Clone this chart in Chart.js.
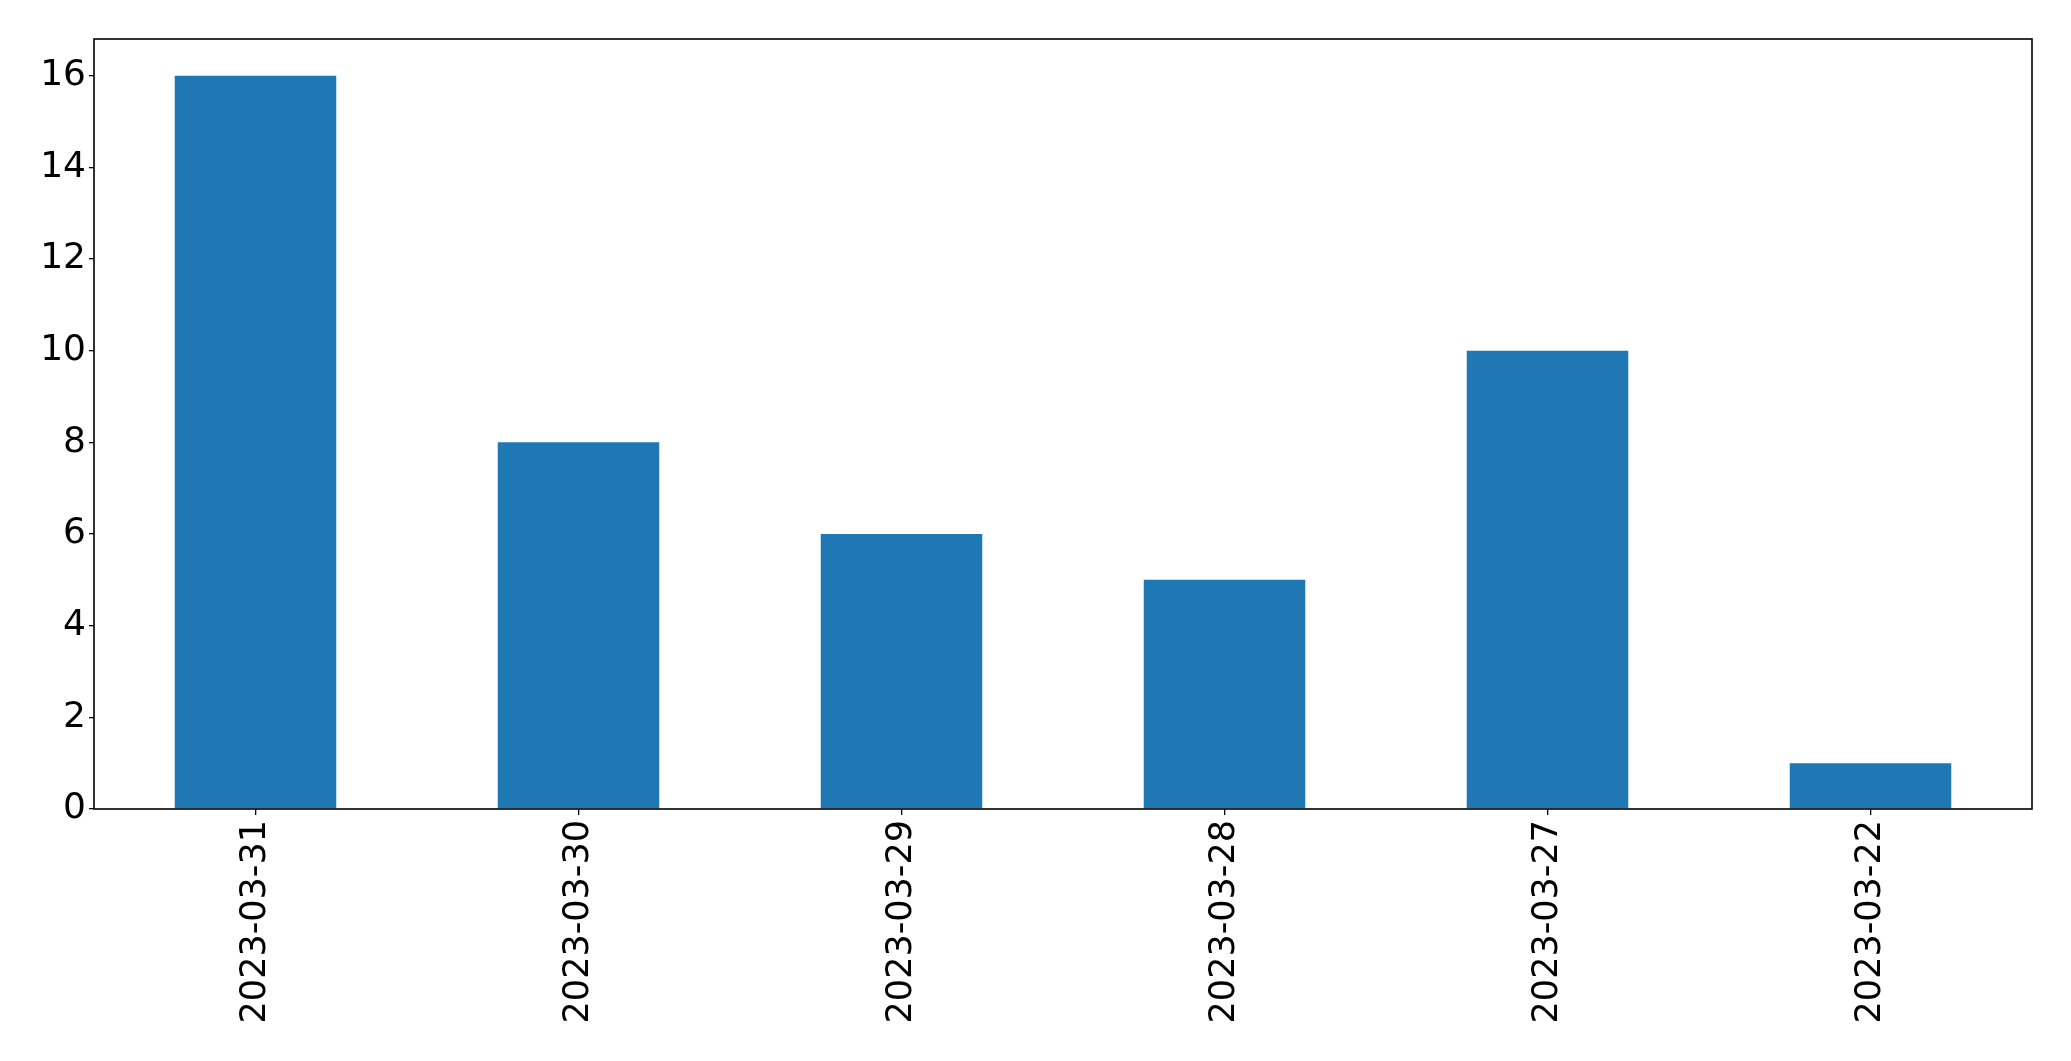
<!DOCTYPE html>
<html>
<head>
<meta charset="utf-8">
<script src="https://cdn.jsdelivr.net/npm/chart.js@4"></script>
<style>
  html, body { margin: 0; padding: 0; background: #fff; }
  #wrap { width: 2071px; height: 1061px; }
</style>
</head>
<body>
<div id="wrap"><canvas id="barChart" width="2071" height="1061"></canvas></div>
<script>
const dates = ['2023-03-31', '2023-03-30', '2023-03-29', '2023-03-28', '2023-03-27', '2023-03-22'];
const counts = [16, 8, 6, 5, 10, 1];
const yTicks = [0, 2, 4, 6, 8, 10, 12, 14, 16];

// full box around the plot, like matplotlib spines
const frame = {
    id: 'frame',
    afterDatasetsDraw(chart) {
        const { ctx, chartArea: a } = chart;
        ctx.save();
        ctx.strokeStyle = '#000';
        ctx.lineWidth = 1.6;
        ctx.strokeRect(a.left, a.top, a.right - a.left, a.bottom - a.top);
        ctx.restore();
    }
};

const xFont = { family: 'DejaVu Sans', size: 35 };
const yFont = { family: 'DejaVu Sans', size: 36 };

new Chart(document.getElementById('barChart'), {
    type: 'bar',
    data: {
        labels: dates,
        datasets: [{
            data: counts,
            backgroundColor: '#1f77b4',
            categoryPercentage: 1,
            barPercentage: 0.5
        }]
    },
    options: {
        responsive: false,
        animation: false,
        layout: { padding: { top: 39, right: 39, left: 0, bottom: 0 } },
        plugins: { legend: { display: false }, tooltip: { enabled: false } },
        scales: {
            x: {
                offset: true,
                grid: { display: true, drawOnChartArea: false, drawTicks: true, tickLength: 6, color: '#000', lineWidth: 1.3, offset: false },
                border: { display: false },
                ticks: { color: '#000', font: xFont, minRotation: 90, maxRotation: 90, padding: 5, autoSkip: false },
                afterFit(scale) { scale.height = 252; }
            },
            y: {
                min: 0,
                max: 16.8,
                grid: { display: true, drawOnChartArea: false, drawTicks: true, tickLength: 5, color: '#000', lineWidth: 1.3 },
                border: { display: false },
                ticks: { color: '#000', font: yFont, padding: 3, stepSize: 2, includeBounds: false },
                afterBuildTicks(scale) { scale.ticks = yTicks.map(v => ({ value: v })); },
                afterFit(scale) { scale.width = 94; }
            }
        }
    },
    plugins: [frame]
});
</script>
</body>
</html>
